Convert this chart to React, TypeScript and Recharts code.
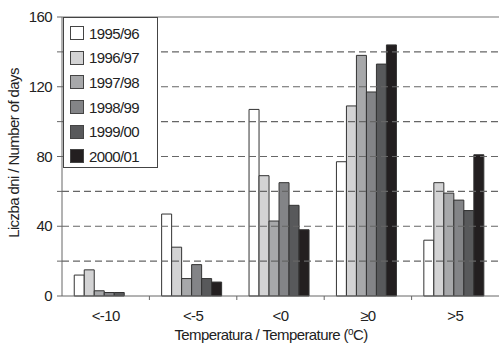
import React from 'react'
import {
  BarChart, Bar, XAxis, YAxis, ReferenceLine, Legend
} from 'recharts'

const categories = ['<-10', '<-5', '<0', '≥0', '>5']
const seasons = ['1995/96', '1996/97', '1997/98', '1998/99', '1999/00', '2000/01']
const colors = ['#ffffff', '#d3d3d4', '#a7a8aa', '#838487', '#58595b', '#231f20']

const s1995 = [12, 47, 107, 77, 32]
const s1996 = [15, 28, 69, 109, 65]
const s1997 = [3, 10, 43, 138, 59]
const s1998 = [2, 18, 65, 117, 55]
const s1999 = [2, 10, 52, 133, 49]
const s2000 = [0, 8, 38, 144, 81]

const yTicks = [0, 20, 40, 60, 80, 100, 120, 140, 160]
const gridValues = [20, 40, 60, 80, 100, 120, 140]

const seriesValues = [s1995, s1996, s1997, s1998, s1999, s2000]
const data = categories.map((c, i) => {
  const row: Record<string, string | number> = { cat: c }
  seasons.forEach((s, k) => { row[s] = seriesValues[k][i] })
  return row
})

const FONT = '"Liberation Sans", Arial, sans-serif'
const LS = -0.6

const YTick = (props: any) => {
  const { x, y, payload } = props
  if (payload.value % 40 !== 0) return null
  return (
    <text x={x - 3} y={y} dy={5} textAnchor="end" fontSize={15} fill="#222" fontFamily={FONT} letterSpacing={LS}>
      {payload.value}
    </text>
  )
}

const XTick = (props: any) => {
  const { x, y, payload, index } = props
  const half = 43.7
  return (
    <g>
      {index > 0 && <line x1={x - half} x2={x - half} y1={y - 8} y2={y - 4} stroke="#666" />}
      <text x={x} y={y + 17} textAnchor="middle" fontSize={15} fill="#222" fontFamily={FONT} letterSpacing={LS}>
        {payload.value}
      </text>
    </g>
  )
}

const XLabel = () => (
  <text x={271} y={340} textAnchor="middle" fontSize={15} fill="#222" fontFamily={FONT} letterSpacing={LS}>
    Temperatura / Temperature (<tspan dy={-5} fontSize={10}>o</tspan><tspan dy={5}>C)</tspan>
  </text>
)

const YLabel = () => (
  <text x={19} y={153} transform="rotate(-90 19 153)" textAnchor="middle" fontSize={15} fill="#222" fontFamily={FONT} letterSpacing={LS}>
    Liczba dni / Number of days
  </text>
)

const LegendBox = () => (
  <div style={{
    width: 95, height: 151, border: '1px solid #444', background: '#fff',
    fontFamily: FONT, fontSize: 15, letterSpacing: LS, color: '#222', paddingTop: 3, boxSizing: 'border-box'
  }}>
    {seasons.map((s, i) => (
      <div key={s} style={{ display: 'flex', alignItems: 'center', height: 24.6, paddingLeft: 6 }}>
        <span style={{
          display: 'inline-block', width: 12, height: 12, background: colors[i],
          border: '1px solid #444', marginRight: 5
        }} />
        {s}
      </div>
    ))}
  </div>
)

export default function App() {
  return (
    <div style={{ position: 'absolute', left: 0, top: 0, background: '#fff' }}>
      <BarChart
        width={499}
        height={344}
        data={data}
        margin={{ top: 17, right: 0, left: 0, bottom: 0 }}
        barCategoryGap="14%"
        barGap={0}
      >
        {gridValues.map(v => (
          <ReferenceLine key={v} y={v} stroke="#666" strokeDasharray="7 4" strokeWidth={1.2} />
        ))}
        <ReferenceLine y={160} stroke="#777" strokeWidth={1.2} />
        <XAxis
          dataKey="cat"
          height={48}
          tick={<XTick />}
          tickLine={false}
          axisLine={{ stroke: '#666' }}
          interval={0}
          label={<XLabel />}
        />
        <YAxis
          width={62}
          domain={[0, 160]}
          ticks={yTicks}
          tick={<YTick />}
          tickSize={5}
          tickLine={{ stroke: '#666' }}
          axisLine={{ stroke: '#666' }}
          label={<YLabel />}
        />
        <Legend
          content={<LegendBox />}
          layout="vertical"
          align="center"
          verticalAlign="middle"
          wrapperStyle={{ left: 63, top: 17, width: 95, height: 151 }}
        />
        {seasons.map((s, i) => (
          <Bar key={s} dataKey={s} fill={colors[i]} stroke="#333" strokeWidth={1} isAnimationActive={false} />
        ))}
      </BarChart>
    </div>
  )
}
